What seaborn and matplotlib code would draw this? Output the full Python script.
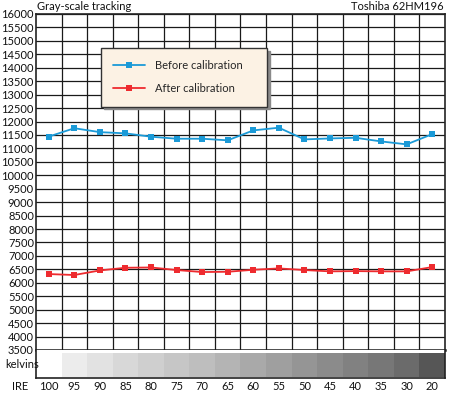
import numpy as np
import pandas as pd
import seaborn as sns
import matplotlib.pyplot as plt
from matplotlib.ticker import MultipleLocator, FixedLocator

# data
ire = ["100", "95", "90", "85", "80", "75", "70", "65", "60", "55", "50", "45", "40", "35", "30", "20"]
before = [11440, 11750, 11605, 11560, 11435, 11360, 11360, 11300, 11670, 11770, 11335, 11370, 11395, 11260, 11150, 11530]
after = [6325, 6290, 6460, 6560, 6570, 6475, 6400, 6410, 6485, 6535, 6475, 6425, 6435, 6425, 6425, 6585]
series = ["Before calibration", "After calibration"]

# gray patch shades under each IRE step (first one is white)
strip_grays = ["#ffffff", "#ececec", "#e2e2e2", "#d8d8d8", "#cfcfcf", "#c6c6c6", "#bebebe", "#b4b4b4",
               "#a9a9a9", "#9f9f9f", "#959595", "#8b8b8b", "#818181", "#777777", "#6b6b6b", "#565656"]

sns.set_style("white")
plt.rcParams['font.family'] = ['Lato', 'DejaVu Sans']

df = pd.DataFrame({
    "pos": list(range(len(ire))) * 2,
    "kelvin": before + after,
    "series": [series[0]] * len(ire) + [series[1]] * len(ire),
})

fig = plt.figure(figsize=(4.5, 3.94), dpi=100)
ax = fig.add_axes([36 / 450, 1 - 350 / 394, 409 / 450, 336 / 394])
sax = fig.add_axes([36 / 450, 1 - 378 / 394, 409 / 450, 28 / 394])

sns.lineplot(data=df, x="pos", y="kelvin", hue="series", palette=["#1b9ad7", "#ee2b2f"],
             marker="s", markersize=5, markeredgewidth=0, linewidth=1.3, ax=ax)

ax.set_xlim(-0.5, len(ire) - 0.5)
ax.set_ylim(3500, 16000)
ax.yaxis.set_major_locator(MultipleLocator(500))
ax.xaxis.set_major_locator(FixedLocator(np.arange(0.5, len(ire) - 1, 1)))
ax.grid(True, which="major", color="#1a1a1a", linewidth=0.9)
ax.set_axisbelow(True)
ax.set_xticklabels([])
ax.tick_params(axis="x", length=0)
ax.tick_params(axis="y", length=0, pad=1.5, labelsize=8, labelcolor="#111111")
ax.set_xlabel("")
ax.set_ylabel("")
for s in ax.spines.values():
    s.set_color("#222222")
    s.set_linewidth(1.2)
ax.spines["bottom"].set_linewidth(1.8)

leg = ax.legend(loc="upper left", bbox_to_anchor=(0.159, 0.723, 0.406, 0.176), mode="expand",
                frameon=True, fancybox=False,
                shadow={"color": "#8a8a8a", "alpha": 1}, facecolor="#fcf2e4", edgecolor="#333333",
                fontsize=8, handlelength=2.9, handletextpad=0.9, borderpad=1.1,
                labelspacing=1.1, borderaxespad=0, title=None)
leg.get_frame().set_linewidth(1.0)
leg.set_zorder(5)

# kelvins strip
sax.bar(range(len(ire)), 0.88, width=1.0, bottom=0.02, color=strip_grays, linewidth=0)
sax.set_xlim(-0.5, len(ire) - 0.5)
sax.set_ylim(0, 1)
sax.set_yticks([])
sax.set_xticks(range(len(ire)))
sax.set_xticklabels(ire, fontsize=8, color="#111111")
sax.tick_params(axis="x", length=0, pad=2)
for s in sax.spines.values():
    s.set_color("#222222")
    s.set_linewidth(1.2)
sax.spines["top"].set_visible(False)

fig.text(5 / 450, 1 - 364 / 394, "kelvins", fontsize=8, va="center", ha="left", color="#111111")
fig.text(20 / 450, 1 - 387 / 394, "IRE", fontsize=8, va="center", ha="center", color="#111111")
fig.text(37 / 450, 1 - 6 / 394, "Gray-scale tracking", fontsize=8, va="center", ha="left", color="#111111")
fig.text(444 / 450, 1 - 6 / 394, "Toshiba 62HM196", fontsize=8, va="center", ha="right", color="#111111")

fig.savefig("out.png", dpi=100)
